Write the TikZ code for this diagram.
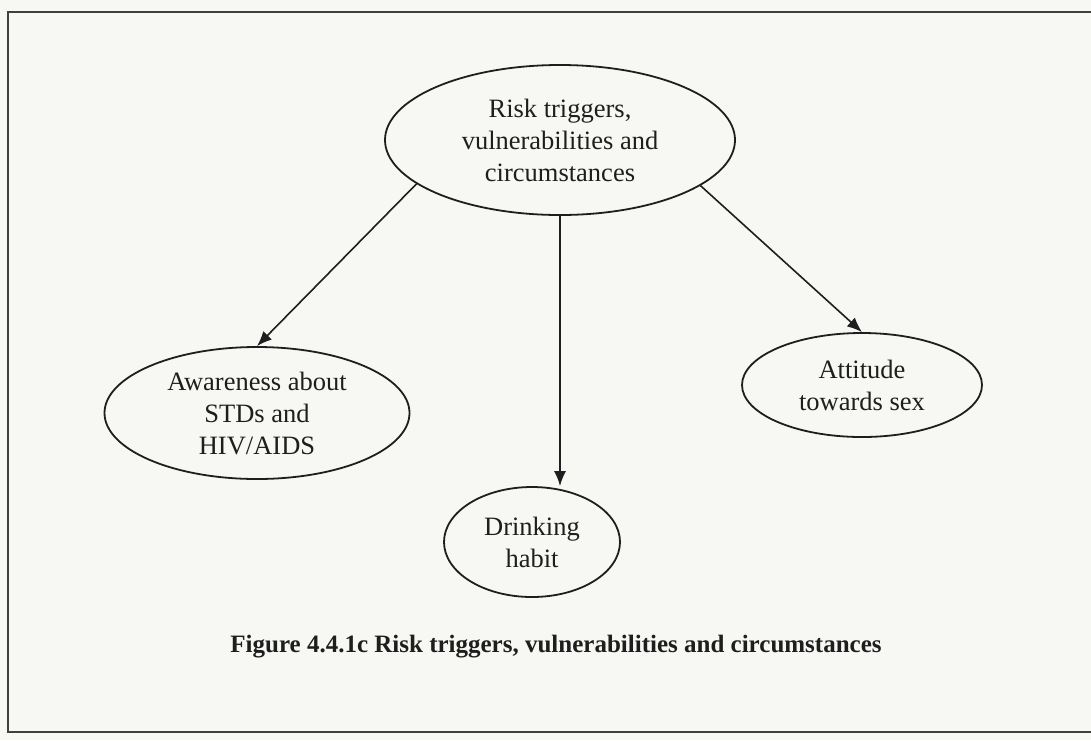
\documentclass[tikz,border=0pt]{standalone}
\usepackage{fontspec}
\setmainfont{Liberation Serif}
\usetikzlibrary{shapes.geometric,arrows.meta}
\definecolor{paper}{HTML}{F7F7F3}
\definecolor{ink}{HTML}{1E1E1E}
\begin{document}
\begin{tikzpicture}[x=1pt,y=-1pt,
  oval/.style={draw=ink, line width=1.8pt, ellipse, inner sep=0pt, align=center,
    text=ink, font=\fontsize{26.5}{32}\selectfont},
  link/.style={draw=ink, line width=1.6pt, -{Latex[length=15pt,width=12pt]}}]
\useasboundingbox (0,0) rectangle (1091,740);
\fill[paper] (0,0) rectangle (1091,740);
\draw[line width=2.2pt, draw=ink!85] (1091,12) -- (8,12) -- (8,732) -- (1091,732);

\node[oval, minimum width=350pt, minimum height=150pt] (risk) at (560,140) {Risk triggers,\\vulnerabilities and\\circumstances};
\node[oval, minimum width=305pt, minimum height=132pt] (aware) at (257,413) {Awareness about\\STDs and\\HIV/AIDS};
\node[oval, minimum width=176pt, minimum height=110pt] (drink) at (532,542) {Drinking\\habit};
\node[oval, minimum width=240pt, minimum height=104pt] (sex) at (862,385) {Attitude\\towards sex};

\draw[link] (risk.197) -- (aware.north);
\draw[link] (risk.south) -- (risk.south |- drink.north);
\draw[link] (risk.342) -- (sex.north);

\node[text=ink, font=\fontsize{25}{29}\selectfont\bfseries] (cap) at (556,647) {Figure 4.4.1c Risk triggers, vulnerabilities and circumstances};
\end{tikzpicture}
\end{document}
